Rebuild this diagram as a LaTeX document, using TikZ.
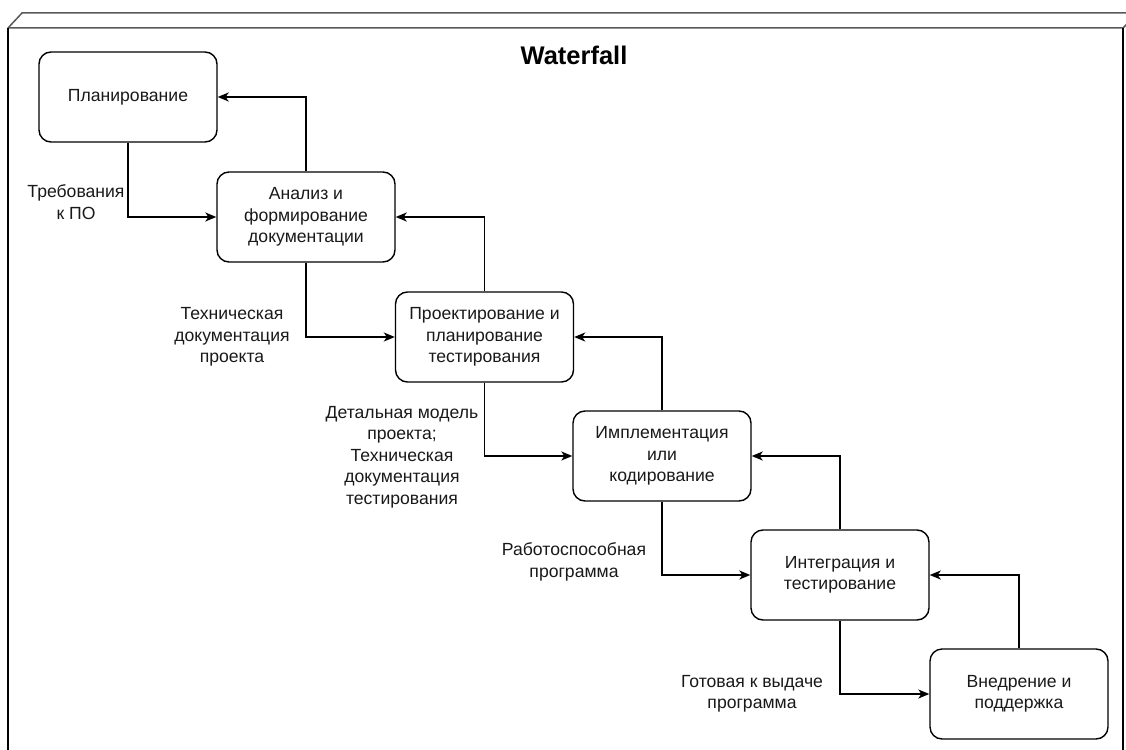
\documentclass[tikz,border=0pt]{standalone}
\usepackage{fontspec}
\setmainfont{Liberation Sans}
\usetikzlibrary{arrows.meta}
\begin{document}
\begin{tikzpicture}[x=1pt,y=-1pt,
  stage/.style={draw=black, line width=1.4pt, rounded corners=12pt, minimum width=178pt, minimum height=90pt, align=center, font=\fontsize{17.6}{21.5}\selectfont, text=black!90, inner sep=0pt},
  lbl/.style={align=center, font=\fontsize{17.6}{21.5}\selectfont, text=black!90, inner sep=0pt},
  flow/.style={line width=1.4pt, -{Stealth[length=11pt,width=9pt,inset=3pt]}}]
\useasboundingbox (0,0) rectangle (1126,749);
\begin{scope}
\clip (0,0) rectangle (1126,749);
\draw[line width=1.5pt, black!65] (8,28) -- (22,13) -- (1140,13);
\draw[line width=1.5pt, black!65] (8,28) -- (1123,28) -- (1138,13);
\draw[line width=1.7pt, black] (8,28) -- (8,760);
\draw[line width=1.7pt, black] (1123,28) -- (1123,760);
\end{scope}
\node[font=\bfseries\fontsize{25.5}{30}\selectfont] (title) at (574,55) {Waterfall};
\node[stage] (plan) at (128,97) {Планирование};
\node[stage] (anal) at (306,217) {Анализ и\\формирование\\документации};
\node[stage] (proj) at (484.5,337) {Проектирование и\\планирование\\тестирования};
\node[stage] (impl) at (662,456) {Имплементация\\или\\кодирование};
\node[stage] (integ) at (840,575) {Интеграция и\\тестирование};
\node[stage] (vned) at (1019,694) {Внедрение и\\поддержка};
\draw[flow] (plan.south) |- (anal.west);
\draw[flow] (anal.north) |- (plan.east);
\draw[flow] (anal.south) |- (proj.west);
\draw[flow] (proj.north) |- (anal.east);
\draw[flow] (proj.south) |- (impl.west);
\draw[flow] (impl.north) |- (proj.east);
\draw[flow] (impl.south) |- (integ.west);
\draw[flow] (integ.north) |- (impl.east);
\draw[flow] (integ.south) |- (vned.west);
\draw[flow] (vned.north) |- (integ.east);
\node[lbl] (l1) at (76,202) {Требования\\к ПО};
\node[lbl] (l2) at (232,337) {Техническая\\документация\\проекта};
\node[lbl] (l3) at (402,457) {Детальная модель\\проекта;\\Техническая\\документация\\тестирования};
\node[lbl] (l4) at (574,562) {Работоспособная\\программа};
\node[lbl] (l5) at (752,694) {Готовая к выдаче\\программа};
\end{tikzpicture}
\end{document}
